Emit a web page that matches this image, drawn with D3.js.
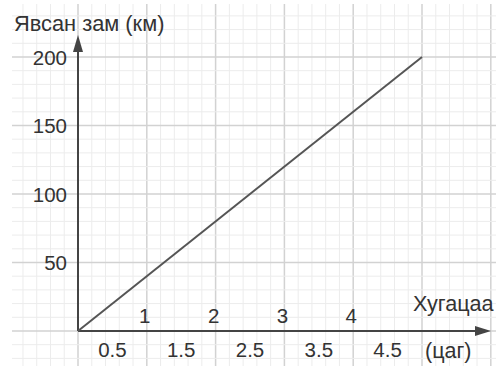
<!DOCTYPE html>
<html><head><meta charset="utf-8">
<script src="https://cdn.jsdelivr.net/npm/d3@7"></script>
<style>body{margin:0;background:#fff}svg{display:block}text{font-family:"Liberation Sans",Arial,sans-serif;fill:#333}</style>
</head><body><svg id="c" width="496" height="366"></svg>
<script>
const times = [0, 5];
const distances = [0, 200];
const yTicks = [50, 100, 150, 200];
const xIntTicks = [1, 2, 3, 4];
const xHalfTicks = [0.5, 1.5, 2.5, 3.5, 4.5];
const yTitle = "Явсан зам (км)";
const xTitle = "Хугацаа";
const xUnit = "(цаг)";

const svg = d3.select("#c");
const x = d3.scaleLinear().domain([0, 5]).range([78, 422]);
const y = d3.scaleLinear().domain([0, 200]).range([331, 57]);

// grid
const gx0 = 12, gx1 = 496, gy0 = 4, gy1 = 366;
const g = svg.append("g");
const minorX = d3.range(-4, 31).map(i => i * 0.2).filter(v => x(v) >= gx0 && x(v) <= gx1);
const minorY = d3.range(-3, 24).map(i => i * 10).filter(v => y(v) >= gy0 && y(v) <= gy1);
g.selectAll(".mx").data(minorX).join("line")
  .attr("x1", d => x(d)).attr("x2", d => x(d)).attr("y1", gy0).attr("y2", gy1)
  .attr("stroke", d => Math.abs(d - Math.round(d)) < 1e-6 ? "#d2d2d2" : "#ececec")
  .attr("stroke-width", d => Math.abs(d - Math.round(d)) < 1e-6 ? 1.5 : 1);
g.selectAll(".my").data(minorY).join("line")
  .attr("y1", d => y(d)).attr("y2", d => y(d)).attr("x1", gx0).attr("x2", gx1)
  .attr("stroke", d => d % 50 === 0 ? "#d2d2d2" : "#ececec")
  .attr("stroke-width", d => d % 50 === 0 ? 1.5 : 1);

// axes
const ax = "#444";
svg.append("line").attr("x1", x(0)).attr("x2", 478).attr("y1", y(0)).attr("y2", y(0)).attr("stroke", ax).attr("stroke-width", 2);
svg.append("path").attr("d", `M491,${y(0)} L475,${y(0)-5} L475,${y(0)+5} Z`).attr("fill", ax);
svg.append("line").attr("x1", x(0)).attr("x2", x(0)).attr("y1", y(0)).attr("y2", 48).attr("stroke", ax).attr("stroke-width", 2);
svg.append("path").attr("d", `M${x(0)},35 L${x(0)-5},52 L${x(0)+5},52 Z`).attr("fill", ax);

// data line
svg.append("path").datum(times.map((t, i) => [t, distances[i]]))
  .attr("d", d3.line().x(d => x(d[0])).y(d => y(d[1])))
  .attr("fill", "none").attr("stroke", "#555").attr("stroke-width", 2);

// labels
svg.selectAll(".yl").data(yTicks).join("text")
  .attr("x", 67).attr("y", d => y(d) + 7.5).attr("text-anchor", "end").attr("font-size", 20.5).text(d => d);
svg.selectAll(".xi").data(xIntTicks).join("text")
  .attr("x", d => x(d) - 2).attr("y", 323).attr("text-anchor", "middle").attr("font-size", 20.5).text(d => d);
svg.selectAll(".xh").data(xHalfTicks).join("text")
  .attr("x", d => x(d)).attr("y", 357).attr("text-anchor", "middle").attr("font-size", 20.5).text(d => d);
svg.append("text").attr("x", 14).attr("y", 31).attr("font-size", 21.8).text(yTitle);
svg.append("text").attr("x", 413).attr("y", 311).attr("font-size", 21.6).text(xTitle);
svg.append("text").attr("x", 425).attr("y", 358).attr("font-size", 21.5).text(xUnit);
</script></body></html>
